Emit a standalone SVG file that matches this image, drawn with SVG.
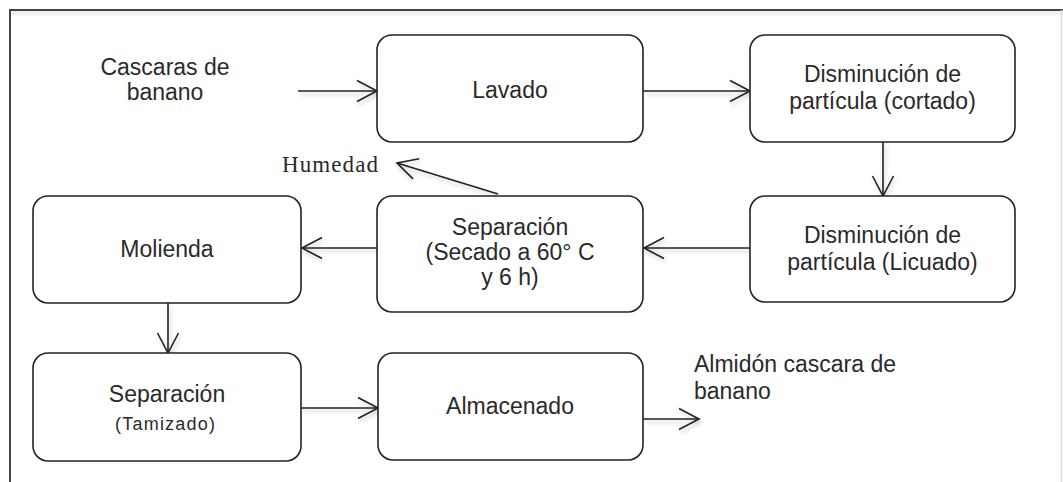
<svg xmlns="http://www.w3.org/2000/svg" width="1063" height="482" viewBox="0 0 1063 482">
  <style>
    .box { fill: #ffffff; stroke: #222222; stroke-width: 1.6; }
    .lbl { font-family: "Liberation Sans", Arial, sans-serif; font-size: 23px; fill: #2a2a2a; text-anchor: middle; }
    .free { font-family: "Liberation Sans", Arial, sans-serif; font-size: 23px; fill: #2a2a2a; }
    .small { font-family: "Liberation Sans", Arial, sans-serif; font-size: 18px; fill: #2a2a2a; text-anchor: middle; }
    .serif { font-family: "Liberation Serif", "Times New Roman", serif; font-size: 23px; fill: #2a2a2a; }
    .conn { fill: none; stroke: #222222; stroke-width: 1.6; marker-end: url(#chev); }
  </style>
  <defs>
    <marker id="chev" viewBox="-24 -14 26 28" refX="0" refY="0" markerWidth="26" markerHeight="28" markerUnits="userSpaceOnUse" orient="auto">
      <path d="M -20 -10.5 L 0 0 L -20 10.5" fill="none" stroke="#222222" stroke-width="1.6" stroke-linejoin="miter"/>
    </marker>
    <filter id="soft" x="-20%" y="-50%" width="140%" height="200%">
      <feDropShadow dx="1.5" dy="3" stdDeviation="2" flood-color="#000000" flood-opacity="0.22"/>
    </filter>
  </defs>

  <rect width="1063" height="482" fill="#ffffff"/>

  <!-- outer frame -->
  <g id="frame">
    <line x1="10" y1="13" x2="1063" y2="13" stroke="#000" stroke-opacity="0.06" stroke-width="5"/>
    <path d="M 10 482 V 10 H 1063" fill="none" stroke="#444444" stroke-width="2"/>
    <line x1="1061.5" y1="10" x2="1061.5" y2="482" stroke="#dddddd" stroke-width="1.5"/>
  </g>

  <!-- connectors -->
  <g id="connectors" filter="url(#soft)">
    <line class="conn" x1="298" y1="91" x2="377" y2="91"/>
    <line class="conn" x1="643" y1="91" x2="750" y2="91"/>
    <line class="conn" x1="883" y1="142" x2="883" y2="196"/>
    <line class="conn" x1="750" y1="248" x2="644" y2="248"/>
    <line class="conn" x1="498" y1="194" x2="397" y2="163"/>
    <line class="conn" x1="377" y1="248" x2="302" y2="248"/>
    <line class="conn" x1="168" y1="303" x2="168" y2="353"/>
    <line class="conn" x1="301" y1="408" x2="378" y2="408"/>
    <line class="conn" x1="643" y1="419" x2="699" y2="419"/>
  </g>

  <!-- input label -->
  <g id="entrada">
    <text class="lbl" x="165" y="75">Cascaras de</text>
    <text class="lbl" x="165" y="100">banano</text>
  </g>

  <g id="lavado">
    <rect class="box" x="377" y="35" width="266" height="107" rx="15"/>
    <text class="lbl" x="510" y="98">Lavado</text>
  </g>

  <g id="cortado">
    <rect class="box" x="750" y="35" width="265" height="107" rx="15"/>
    <text class="lbl" x="882.5" y="82">Disminución de</text>
    <text class="lbl" x="882.5" y="109">partícula (cortado)</text>
  </g>

  <g id="licuado">
    <rect class="box" x="750" y="196" width="265" height="106" rx="15"/>
    <text class="lbl" x="882.5" y="243">Disminución de</text>
    <text class="lbl" x="882.5" y="270">partícula (Licuado)</text>
  </g>

  <g id="secado">
    <rect class="box" x="377" y="196" width="266" height="116" rx="15"/>
    <text class="lbl" x="510" y="235">Separación</text>
    <text class="lbl" x="510" y="260">(Secado a 60° C</text>
    <text class="lbl" x="510" y="285">y 6 h)</text>
  </g>

  <g id="humedad">
    <text class="serif" x="282" y="172" textLength="96" lengthAdjust="spacing">Humedad</text>
  </g>

  <g id="molienda">
    <rect class="box" x="33" y="196" width="268" height="107" rx="15"/>
    <text class="lbl" x="167" y="257">Molienda</text>
  </g>

  <g id="tamizado">
    <rect class="box" x="33" y="353" width="268" height="108" rx="15"/>
    <text class="lbl" x="167" y="402">Separación</text>
    <text class="small" x="165" y="430" textLength="100" lengthAdjust="spacing">(Tamizado)</text>
  </g>

  <g id="almacenado">
    <rect class="box" x="378" y="353" width="265" height="107" rx="15"/>
    <text class="lbl" x="510" y="414">Almacenado</text>
  </g>

  <g id="salida">
    <text class="free" x="694" y="372">Almidón cascara de</text>
    <text class="free" x="694" y="399">banano</text>
  </g>
</svg>
